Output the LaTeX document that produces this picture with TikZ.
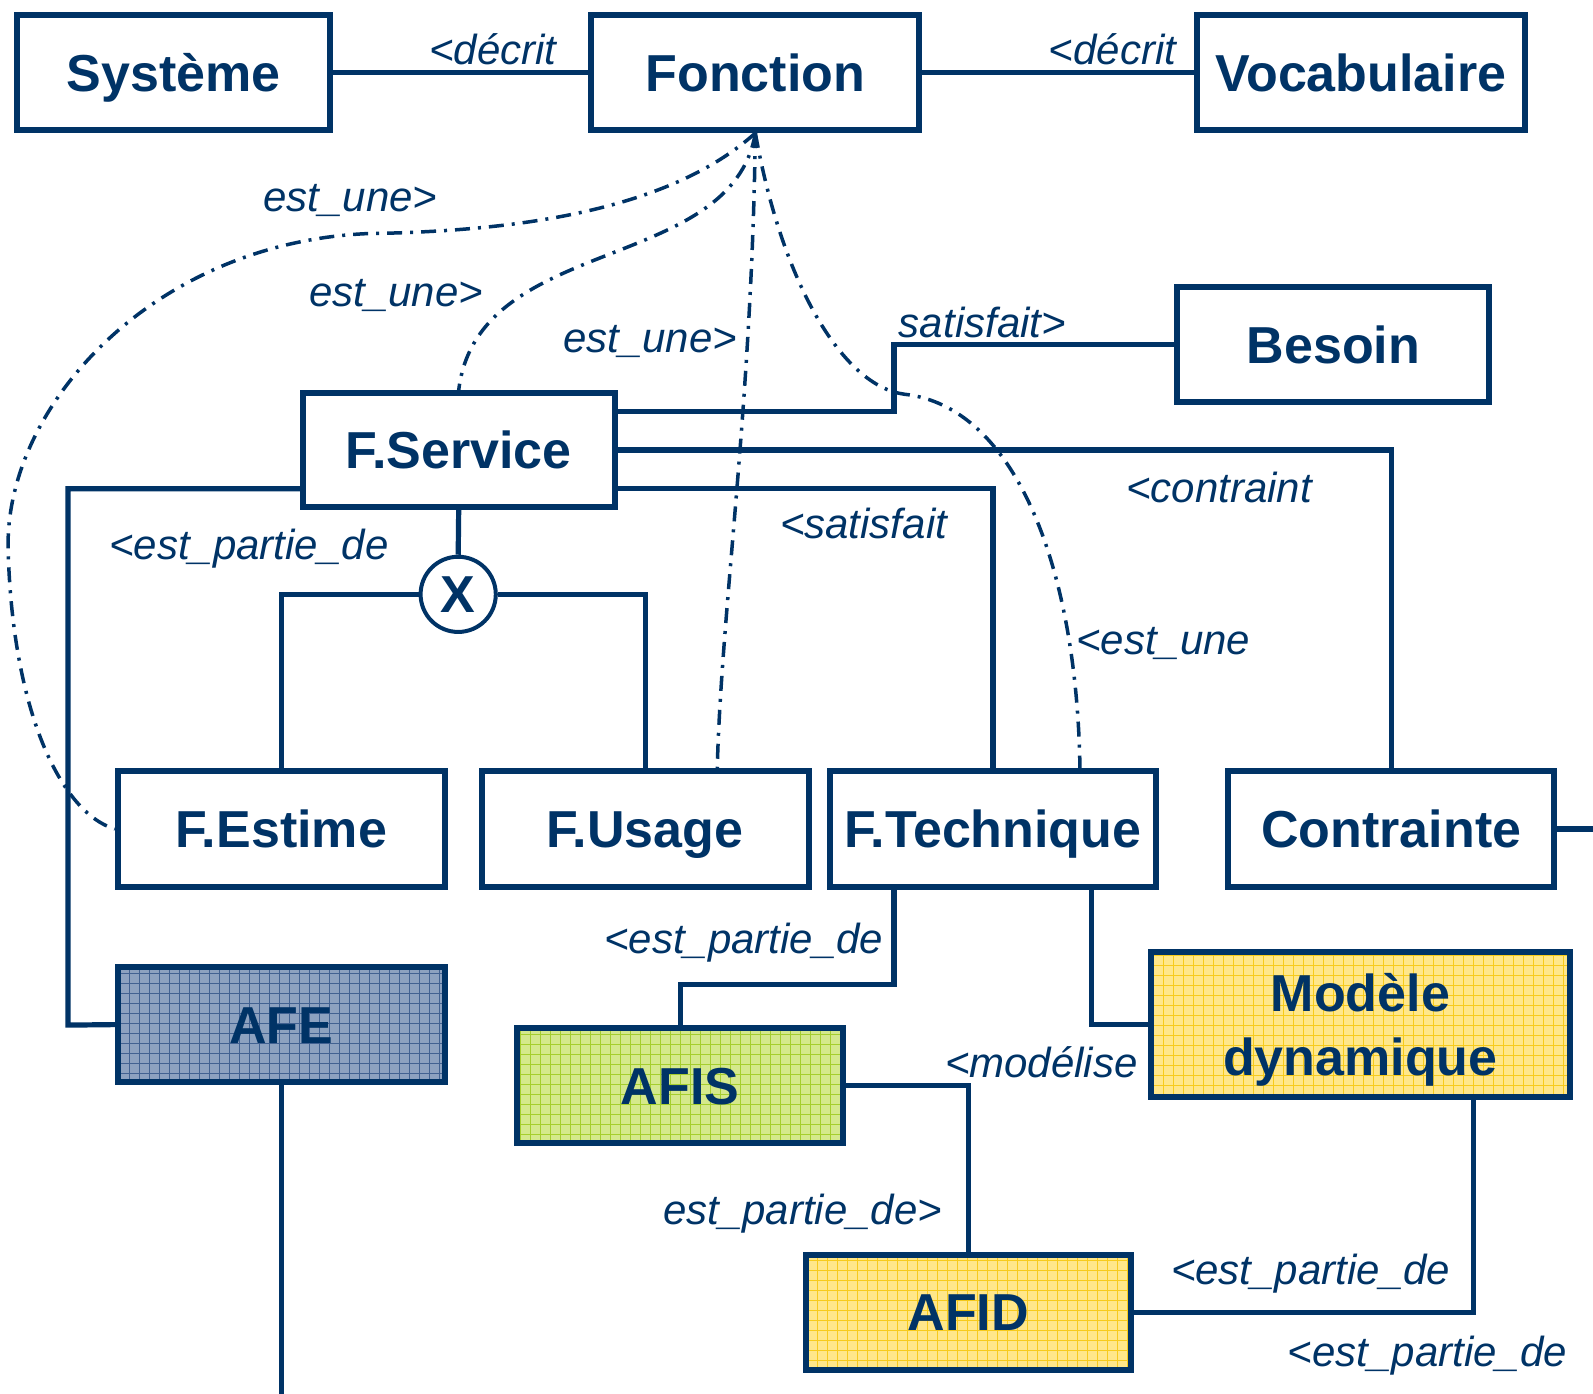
\documentclass[tikz,border=0pt]{standalone}
\usepackage{fontspec}
\setmainfont{Liberation Sans}
\definecolor{navy}{RGB}{0,51,102}
\definecolor{afefill}{RGB}{141,162,192}
\definecolor{afegrid}{RGB}{66,98,146}
\definecolor{greenfill}{RGB}{213,233,140}
\definecolor{greengrid}{RGB}{166,206,46}
\definecolor{yelfill}{RGB}{255,231,138}
\definecolor{yelgrid}{RGB}{247,203,28}
\tikzset{
  box/.style={draw=navy, line width=3pt, fill=white, inner sep=0pt, rectangle,
    text=navy, font=\bfseries\fontsize{26}{32}\selectfont, align=center},
  oneline/.style={text height=18.6pt, text depth=0pt},
  sz/.style 2 args={minimum width=#1*0.508pt, minimum height=#2*0.508pt},
  gridfill/.style 2 args={path picture={
    \fill[#1] (path picture bounding box.south west) rectangle (path picture bounding box.north east);
    \draw[#2, line width=0.5pt, step=5pt] (path picture bounding box.south west) grid (path picture bounding box.north east);}},
  conn/.style={draw=navy, line width=2.6pt},
  isa/.style={draw=navy, line width=1.75pt, dash pattern=on 7.5pt off 4pt on 1.5pt off 4pt},
  lab/.style={text=navy, font=\itshape\fontsize{21}{25}\selectfont, inner sep=0pt},
  xnode/.style={draw=navy, line width=2pt, circle, fill=white, minimum size=37.6pt, inner sep=0pt,
    text=navy, font=\bfseries\fontsize{26}{32}\selectfont}
}
\begin{document}
\begin{tikzpicture}[x=0.508pt, y=-0.508pt]
\useasboundingbox (0,0) rectangle (1568,1372);
% boxes
\node[box, oneline, sz={308}{113}] (sys) at (171,71.5) {Système};
\node[box, oneline, sz={323}{113}] (fon) at (743.5,71.5) {Fonction};
\node[box, oneline, sz={323}{113}] (voc) at (1339.5,71.5) {Vocabulaire};
\node[box, oneline, sz={307}{114}] (bes) at (1312.5,339) {Besoin};
\node[box, oneline, sz={307}{112}] (fs) at (451.5,443) {F.Service};
\node[box, oneline, sz={322}{114}] (fe) at (277,816) {F.Estime};
\node[box, oneline, sz={322}{114}] (fu) at (635,816) {F.Usage};
\node[box, oneline, sz={321}{114}] (ft) at (977.5,816) {F.Technique};
\node[box, oneline, sz={321}{114}] (con) at (1369.5,816) {Contrainte};
\node[box, oneline, gridfill={afefill}{afegrid}, sz={322}{113}] (afe) at (277,1008.5) {AFE};
\node[box, oneline, gridfill={greenfill}{greengrid}, sz={321}{113}] (afis) at (669.5,1068.5) {AFIS};
\node[box, text depth=0pt, gridfill={yelfill}{yelgrid}, sz={412}{143}] (mod) at (1339,1008.5) {Modèle\\dynamique};
\node[box, oneline, gridfill={yelfill}{yelgrid}, sz={320}{113}] (afid) at (953,1291.5) {AFID};
\node[xnode, text height=18.6pt, text depth=0pt] (xc) at (451,585) {X};
\coordinate (afeend) at (277,1372);
\coordinate (conend) at (1568,816);
% solid connectors
\draw[conn] (sys.east) -- (fon.west);
\draw[conn] (fon.east) -- (voc.west);
\draw[conn] (bes.west) -| (880,405) -- (fs.east |- 0,405);
\draw[conn] (fs.east |- 0,443) -| (con.north);
\draw[conn] (fs.east |- 0,481) -| (ft.north);
\draw[conn] (fs.west |- 0,481) -| (67,1009) -- (afe.west);
\draw[conn] (fs.south) -- (xc.north);
\draw[conn] (xc.west) -| (fe.north);
\draw[conn] (xc.east) -| (fu.north);
\draw[conn] (880,0 |- ft.south) -- (880,969) -| (afis.north);
\draw[conn] (1074,0 |- ft.south) |- (mod.west);
\draw[conn] (afis.east) -| (afid.north);
\draw[conn] (1450,0 |- mod.south) |- (afid.east);
\draw[conn] (afe.south) -- (afeend);
\draw[conn] (con.east) -- (conend);
% est_une curves
\draw[isa] (fon.south) .. controls (650,215) and (480,228) .. (360,230)
  .. controls (150,240) and (5,400) .. (8,540) .. controls (12,700) and (60,800) .. (fe.west);
\draw[isa] (fon.south) .. controls (720,270) and (470,230) .. (fs.north);
\draw[isa] (fon.south) .. controls (740,400) and (710,600) .. (fu.north -| 706,0);
\draw[isa] (fon.south) .. controls (770,280) and (830,380) .. (890,388)
  .. controls (1000,400) and (1060,560) .. (ft.north -| 1063,0);
% labels
\node[lab] (l1) at (485,48) {<décrit};
\node[lab] (l2) at (1095,48) {<décrit};
\node[lab] (l3) at (345,197) {est\_une>};
\node[lab] (l4) at (390,291) {est\_une>};
\node[lab] (l5) at (640,336) {est\_une>};
\node[lab] (l6) at (967,317) {satisfait>};
\node[lab] (l7) at (1200,480) {<contraint};
\node[lab] (l8) at (850,515) {<satisfait};
\node[lab] (l9) at (245,540) {<est\_partie\_de};
\node[lab] (l10) at (1145,633) {<est\_une};
\node[lab] (l11) at (732,928) {<est\_partie\_de};
\node[lab] (l12) at (1025,1046) {<modélise};
\node[lab] (l13) at (790,1195) {est\_partie\_de>};
\node[lab] (l14) at (1290,1254) {<est\_partie\_de};
\node[lab] (l15) at (1405,1334) {<est\_partie\_de};
\end{tikzpicture}
\end{document}
